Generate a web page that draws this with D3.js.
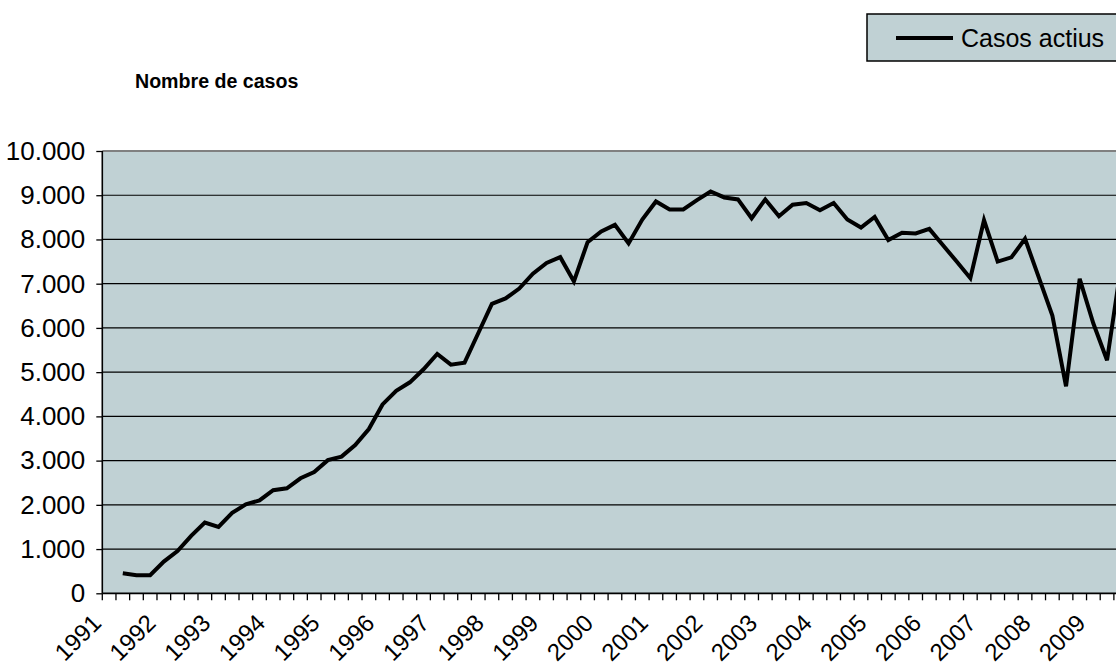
<!DOCTYPE html>
<html>
<head>
<meta charset="utf-8">
<script src="https://cdn.jsdelivr.net/npm/d3@7/dist/d3.min.js"></script>
<style>
  html, body { margin: 0; padding: 0; background: #fff; overflow: hidden; }
  svg { display: block; font-family: "Liberation Sans", Arial, sans-serif; }
</style>
</head>
<body>
<svg id="chart" width="1160" height="671"></svg>
<script>
// ---- data ----
const years = d3.range(1991, 2010); // 1991 .. 2009
const quarters = ["T1", "T2", "T3", "T4"];
const categories = years.flatMap(yr => quarters.map(q => `${yr}-${q}`));
// Casos actius per trimestre (first quarter of 1991 has no value)
const values = [
  null, 455, 410, 410,
  718, 955, 1300, 1600,
  1500, 1818, 2010, 2100,
  2330, 2375, 2600, 2740,
  3010, 3090, 3350, 3715,
  4270, 4580, 4770, 5065,
  5410, 5170, 5215, 5880,
  6545, 6666, 6890, 7225,
  7470, 7600, 7050, 7940,
  8180, 8330, 7910, 8450,
  8860, 8680, 8680, 8890,
  9085, 8950, 8905, 8480,
  8905, 8525, 8785, 8825,
  8660, 8825, 8450, 8270,
  8510, 7985, 8150, 8135,
  8240, 7870, 7500, 7125,
  8435, 7500, 7595, 8015,
  7150, 6280, 4680, 7110,
  6100, 5270, 7350
];
const yTicks = d3.range(0, 10001, 1000);
const seriesName = "Casos actius";
const yTitle = "Nombre de casos";

// ---- layout ----
const plotLeft = 102.3, plotTop = 151, plotBottom = 593.3, catW = 13.67;
const bg = "#c0d1d4";
const svg = d3.select("#chart");

const x = d3.scaleBand().domain(categories).range([plotLeft, plotLeft + catW * categories.length]).padding(0);
const y = d3.scaleLinear().domain([0, 10000]).range([plotBottom, plotTop]);
const loc = d3.formatLocale({ decimal: ",", thousands: ".", grouping: [3], currency: ["", "€"] });
const fmt = loc.format(",");

const plotRight = x.range()[1];

// plot background
svg.append("rect")
  .attr("x", plotLeft).attr("y", plotTop)
  .attr("width", plotRight - plotLeft).attr("height", plotBottom - plotTop)
  .attr("fill", bg);
// top border (grey)
svg.append("line")
  .attr("x1", plotLeft).attr("x2", plotRight)
  .attr("y1", plotTop).attr("y2", plotTop)
  .attr("stroke", "#808080").attr("stroke-width", 2);

// gridlines
svg.append("g").selectAll("line")
  .data(yTicks.filter(d => d > 0 && d < 10000))
  .join("line")
  .attr("x1", plotLeft).attr("x2", plotRight)
  .attr("y1", d => y(d)).attr("y2", d => y(d))
  .attr("stroke", "#000").attr("stroke-width", 1.2);

// y axis
const yAxis = d3.axisLeft(y).tickValues(yTicks).tickFormat(fmt).tickSize(6).tickPadding(11);
const gy = svg.append("g").attr("transform", `translate(${plotLeft},0)`).call(yAxis);
gy.select(".domain").attr("stroke", "#000").attr("stroke-width", 1.6).attr("d", `M0,${plotTop}V${plotBottom}`);
gy.selectAll(".tick line").attr("stroke", "#000").attr("stroke-width", 1.3);
gy.selectAll(".tick text")
  .attr("font-size", 26).attr("fill", "#000")
  .attr("font-family", "Liberation Sans, Arial, sans-serif");

// x axis: ticks at category boundaries
const boundaries = categories.map(c => x(c)).concat([plotRight]);
const gx = svg.append("g");
gx.append("line")
  .attr("x1", plotLeft).attr("x2", plotRight)
  .attr("y1", plotBottom).attr("y2", plotBottom)
  .attr("stroke", "#000").attr("stroke-width", 1.8);
gx.selectAll("line.tk")
  .data(boundaries)
  .join("line").attr("class", "tk")
  .attr("x1", d => d).attr("x2", d => d)
  .attr("y1", plotBottom).attr("y2", plotBottom + 7)
  .attr("stroke", "#000").attr("stroke-width", 1.3);

// year labels (first quarter of every year)
const yearLabels = categories.filter(c => c.endsWith("T1"));
gx.selectAll("text.yr")
  .data(yearLabels)
  .join("text").attr("class", "yr")
  .attr("transform", c => `translate(${x(c) + x.bandwidth() / 2 - 19},612) rotate(-45)`)
  .attr("text-anchor", "end")
  .attr("dominant-baseline", "hanging")
  .attr("font-size", 24)
  .attr("fill", "#000")
  .text(c => c.slice(0, 4));

// series line
const line = d3.line()
  .defined(d => d.v != null)
  .x(d => x(d.c) + x.bandwidth() / 2)
  .y(d => y(d.v));
const pts = categories.map((c, i) => ({ c, v: i < values.length ? values[i] : null }));
svg.append("path")
  .datum(pts)
  .attr("d", line)
  .attr("fill", "none")
  .attr("stroke", "#000")
  .attr("stroke-width", 4)
  .attr("stroke-linejoin", "miter");

// title
svg.append("text")
  .attr("x", 135).attr("y", 88)
  .attr("font-size", 19.6).attr("font-weight", "bold")
  .attr("fill", "#000")
  .text(yTitle);

// legend
const lg = svg.append("g");
lg.append("rect")
  .attr("x", 867).attr("y", 14)
  .attr("width", 300).attr("height", 47)
  .attr("fill", bg).attr("stroke", "#000").attr("stroke-width", 1.5);
lg.append("line")
  .attr("x1", 896).attr("x2", 953)
  .attr("y1", 38).attr("y2", 38)
  .attr("stroke", "#000").attr("stroke-width", 4);
lg.append("text")
  .attr("x", 961).attr("y", 38)
  .attr("dominant-baseline", "central")
  .attr("font-size", 25).attr("fill", "#000")
  .text(seriesName);
</script>
</body>
</html>
